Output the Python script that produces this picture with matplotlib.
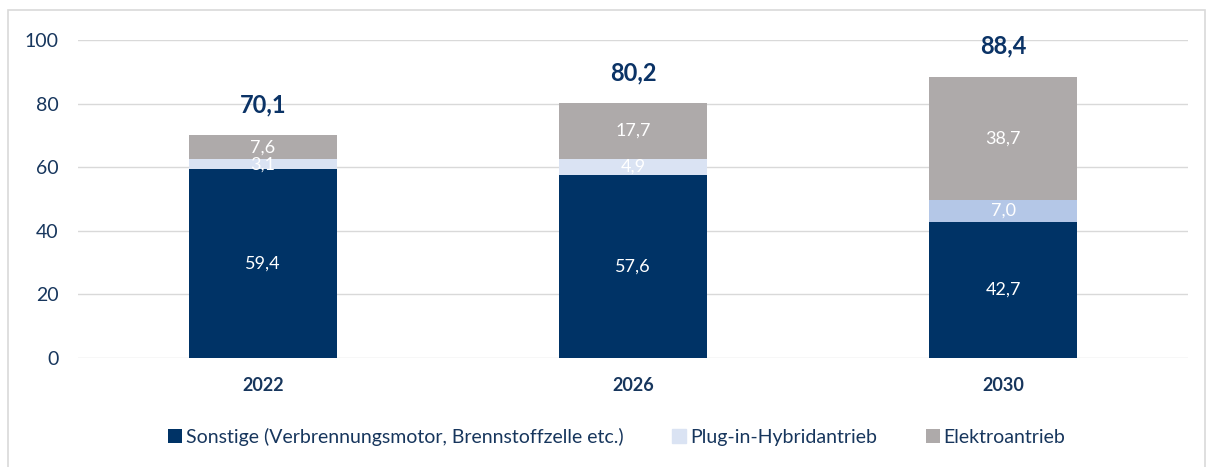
import numpy as np
import matplotlib.pyplot as plt
from matplotlib.patches import Rectangle

plt.rcParams['font.family'] = ['Lato', 'DejaVu Sans']

years = ['2022', '2026', '2030']
sonstige = [59.4, 57.6, 42.7]
plugin = [3.1, 4.9, 7.0]
elektro = [7.6, 17.7, 38.7]
totals = [70.1, 80.2, 88.4]

navy = '#003366'
txt = '#17365d'
plugin_cols = ['#dae3f3', '#dae3f3', '#b4c7e7']
grey = '#aeaaaa'

fig = plt.figure(figsize=(12.14, 4.67), dpi=100)
ax = fig.add_axes([0.0643, 0.2334, 0.9143, 0.6809])

x = np.arange(len(years))
w = 0.4
b1 = ax.bar(x, sonstige, w, color=navy, label='Sonstige (Verbrennungsmotor, Brennstoffzelle etc.)', zorder=3)
b2 = ax.bar(x, plugin, w, bottom=sonstige, color=plugin_cols, label='Plug-in-Hybridantrieb', zorder=3)
bottom3 = np.array(sonstige) + np.array(plugin)
b3 = ax.bar(x, elektro, w, bottom=bottom3, color=grey, label='Elektroantrieb', zorder=3)

def fmt(v):
    return f'{v:.1f}'.replace('.', ',')

# segment labels and totals
for i in range(len(years)):
    ax.text(x[i], sonstige[i] / 2, fmt(sonstige[i]), ha='center', va='center',
            color='white', fontsize=13, zorder=4)
    ax.text(x[i], sonstige[i] + plugin[i] / 2, fmt(plugin[i]), ha='center', va='center',
            color='white', fontsize=13, zorder=4)
    ax.text(x[i], bottom3[i] + elektro[i] / 2, fmt(elektro[i]), ha='center', va='center',
            color='white', fontsize=13, zorder=4)
    ax.annotate(fmt(totals[i]), (x[i], totals[i]), xytext=(0, 22),
                textcoords='offset points', ha='center', va='center', color='#0b3366',
                fontsize=17, fontweight='bold')

ax.set_xlim(-0.5, 2.5)
ax.set_ylim(0, 100)
ax.set_yticks(range(0, 101, 20))
ax.yaxis.grid(True, color='#d9d9d9', linewidth=1, zorder=0)
for s in ax.spines.values():
    s.set_visible(False)
ax.tick_params(axis='both', length=0)
ax.tick_params(axis='y', labelsize=14, labelcolor=txt, pad=14)
ax.set_xticks(x)
ax.set_xticklabels(years, fontsize=13, fontweight='bold', color=txt)
ax.tick_params(axis='x', pad=14)

leg = fig.legend(handles=[b1, b2, b3], loc='center', bbox_to_anchor=(0.508, 0.064), ncol=3,
                 frameon=False, fontsize=14, handlelength=0.72, handleheight=0.72,
                 handletextpad=0.2, columnspacing=2.5, borderpad=0)
for t in leg.get_texts():
    t.set_color(txt)
leg.legend_handles[1].set_color('#dae3f3')

fig.patches.append(Rectangle((8 / 1214, -0.1), (1205 - 8) / 1214, 1.1 - 10 / 467,
                             transform=fig.transFigure, fill=False, edgecolor='#d9d9d9', linewidth=1.2))

fig.savefig('out.png', dpi=100)
